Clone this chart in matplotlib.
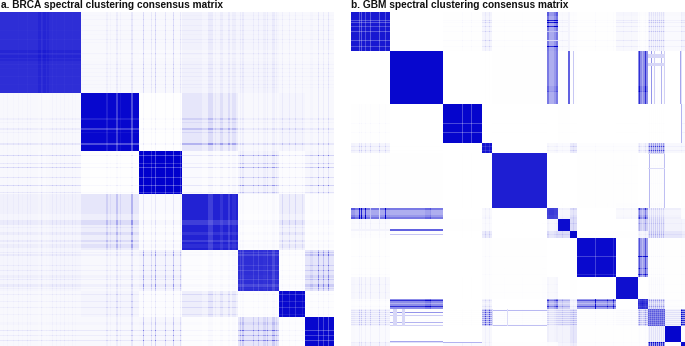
import numpy as np
import matplotlib
matplotlib.use('Agg')
import matplotlib.pyplot as plt
from matplotlib.colors import LinearSegmentedColormap

plt.rcParams['font.family'] = ['Liberation Sans', 'DejaVu Sans']

# cluster sizes along the matrix
brca_sizes = [81, 58, 43, 56, 41, 26, 29]
gbm_sizes = [39, 53, 39, 10, 55, 11, 12, 7, 39, 22, 10, 17, 16, 4]

# mean consensus between clusters, upper triangle from the diagonal on
brca_levels = [
    [.82, .03, .04, .04, .04, .03, .03],
    [.97, .01, .07, .03, .04, .03],
    [.93, .02, .06, .02, .05],
    [.86, .01, .05, .01],
    [.82, .01, .10],
    [.96, .01],
    [.97],
]
gbm_levels = [
    [.90, .00, .006, .04, .006, .42, .02, .01, .006, .03, .01, .04, .02, .04],
    [.97, .00, .002, .004, .40, .004, .006, .00, .002, .45, .006, .003, .003],
    [.98, .00, .002, .00, .004, .002, .00, .002, .00, .002, .00, .02],
    [.92, .00, .03, .02, .08, .008, .008, .05, .16, .03, .03],
    [.88, .002, .002, .00, .004, .006, .00, .006, .00, .004],
    [.72, .04, .12, .00, .03, .35, .06, .05, .01],
    [.95, .14, .00, .00, .18, .08, .05, .04],
    [.96, .004, .004, .04, .10, .10, .07],
    [.96, .00, .38, .006, .004, .008],
    [.94, .00, .01, .006, .01],
    [.80, .10, .01, .01],
    [.66, .05, .35],
    [.98, .01],
    [.95],
]

# stripes inside a cluster: (first sample, width, weight)
brca_stripes = [
    [(3, 1, 1.2), (7, 1, 1.5), (13, 1, 1.4), (18, 1, 1.55), (22, 1, 1.2), (27, 1, 1.6), (30, 1, 1.4),
     (38, 3, .8), (41, 1, 1.6), (43, 3, .8), (47, 2, .85), (52, 1, 1.6), (56, 1, 1.55), (60, 1, 1.4),
     (64, 1, 1.6), (68, 1, 1.2), (72, 1, 1.55), (75, 1, 1.3)],
    [(25, 2, 1.9), (29, 1, 1.5), (35, 2, 2.4), (39, 1, 1.7), (50, 2, 3.0)],
    [(0, 43, .7), (4, 1, 3.5), (12, 1, 2.2), (16, 1, 3.5), (26, 1, 2.5), (34, 1, 3.5), (41, 1, 2.2)],
    [(0, 20, 1.4), (26, 5, 2.0), (33, 1, 1.5), (38, 3, 1.8), (46, 2, 2.0), (50, 4, 1.7)],
    [(2, 1, 1.9), (4, 2, 2.0), (15, 1, 1.9), (20, 1, 2.0), (25, 3, 1.6), (29, 1, 2.0), (34, 3, 2.0), (38, 1, 1.6)],
    [(3, 1, 2.2), (10, 1, 2.0), (16, 1, 2.2), (23, 1, 1.8)],
    [(5, 3, 1.4), (13, 1, 3.0), (18, 1, 2.4), (23, 1, 3.0)],
]
gbm_stripes = [
    [(0, 4, 1.2), (8, 1, 2.6), (10, 1, 2.6), (14, 1, 2.4), (19, 1, 2.6), (28, 1, 2.8), (34, 1, 2.4)],
    [(35, 6, 1.15), (40, 1, 1.3)],
    [(19, 1, 2.6), (28, 1, 2.6)],
    [(3, 1, 2.0), (7, 1, 2.0)],
    [(12, 1, 1.5), (30, 1, 1.5), (50, 4, 1.4)],
    [(0, 2, 1.3), (2, 5, .8), (9, 2, 1.3)],
    [(4, 1, 1.4)],
    [(3, 1, 1.4)],
    [(18, 1, 2.4), (30, 1, 1.4), (36, 1, 2.0)],
    [(7, 1, 1.4), (15, 1, 1.4)],
    [(1, 1, 1.8), (4, 1, .7), (7, 1, 1.8)],
    [(1, 1, 2.2), (3, 1, 2.4), (5, 1, 2.2), (7, 1, 2.4), (9, 1, 2.2), (11, 1, 2.4), (13, 1, 2.2), (15, 1, 2.4)],
    [],
    [(0, 1, 1.5)],
]

# stripes that only show against one other cluster:
# (cluster, other cluster, first sample, width, consensus)
gbm_pair_bands = [
    (0, 5, 19, 1, .25),
    (0, 5, 28, 1, .15),
    (6, 1, 10, 2, .62),
    (6, 0, 10, 2, .05),
    (7, 1, 3, 1, .22),
    (11, 1, 3, 1, .42),
    (11, 1, 6, 1, .20),
    (11, 1, 13, 1, .30),
    (11, 1, 16, 1, .18),
    (11, 4, 1, 1, .28),
    (11, 4, 16, 1, .25),
    (12, 1, 15, 1, .35),
    (13, 2, 0, 1, .30),
    (13, 1, 0, 1, .12),
    (1, 11, 3, 4, .16),
    (1, 11, 12, 3, .16),
    (4, 11, 0, 1, .14),
    (4, 11, 15, 1, .14),
]

titles = ['a. BRCA spectral clustering consensus matrix',
          'b. GBM spectral clustering consensus matrix']


def build_matrix(sizes, levels, stripes, pair_bands=()):
    n = len(sizes)
    weights = []
    for k in range(n):
        w = np.ones(sizes[k])
        for start, width, weight in stripes[k]:
            w[start:start + width] = weight
        weights.append(w)
    rows = []
    for a in range(n):
        row = []
        for b in range(n):
            lvl = levels[min(a, b)][abs(a - b)]
            if a == b:
                # only the clearly loose samples show as pale lines inside a block
                t = 1 - 0.25 * np.clip(weights[a] - 1.5, 0, None) + 0.2 * np.clip(1 - weights[a], 0, None)
                t = np.clip(t, .72, 1.1)
                row.append(lvl * np.outer(t, t))
            else:
                row.append(lvl * np.outer(weights[a], weights[b]))
        rows.append(row)
    for a, b, start, width, value in pair_bands:
        rows[a][b][start:start + width, :] = value
        rows[b][a][:, start:start + width] = value
    return np.clip(np.block(rows), 0, 1)


cmap = LinearSegmentedColormap.from_list('consensus', ['#ffffff', '#0000cd'])

fig = plt.figure(figsize=(6.85, 3.46), dpi=100)
W, H = 685, 346
panels = [(0, brca_sizes, brca_levels, brca_stripes, [], 1),
          (351, gbm_sizes, gbm_levels, gbm_stripes, gbm_pair_bands, 351)]
for (left, sizes, levels, stripes, bands, tx), title in zip(panels, titles):
    ax = fig.add_axes([left / W, 0, 334 / W, 334 / H])
    ax.imshow(build_matrix(sizes, levels, stripes, bands), cmap=cmap, vmin=0, vmax=1,
              aspect='auto', interpolation='gaussian')
    ax.axis('off')
    fig.text(tx / W, 1 - 8 / H, title, fontsize=7.3, fontweight='bold', color='#111111')

fig.savefig('out.png', dpi=100)
